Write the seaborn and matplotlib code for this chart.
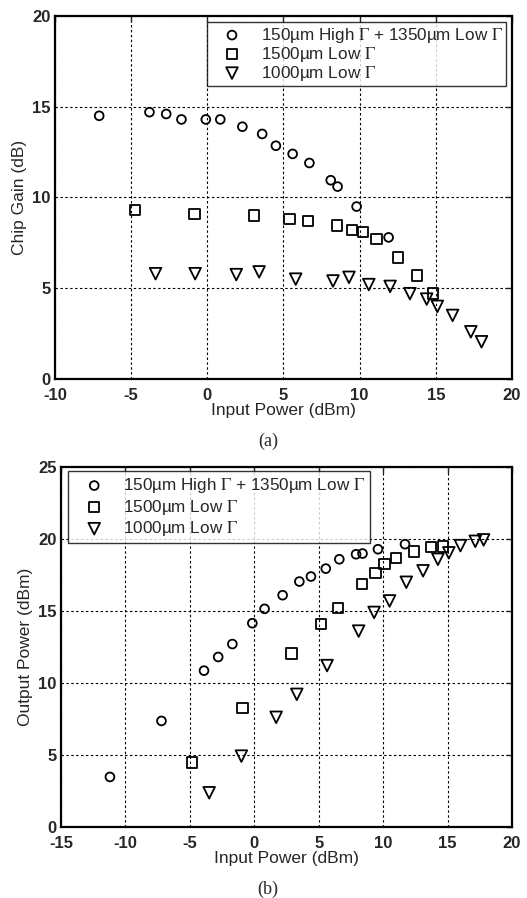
import pandas as pd
import matplotlib
matplotlib.use('Agg')
import matplotlib.pyplot as plt
import seaborn as sns

# Series labels
labels = [r'150µm High $\Gamma$ + 1350µm Low $\Gamma$',
          r'1500µm Low $\Gamma$',
          r'1000µm Low $\Gamma$']
markers = ['o', 's', 'v']

# (a) Chip gain vs input power
gain_x_combo = [-7.1, -3.8, -2.7, -1.7, -0.1, 0.85, 2.3, 3.6, 4.5, 5.6, 6.7, 8.1, 8.55, 9.8, 11.9]
gain_y_combo = [14.5, 14.7, 14.6, 14.3, 14.3, 14.3, 13.9, 13.5, 12.85, 12.4, 11.9, 10.95, 10.6, 9.5, 7.8]
gain_x_1500 = [-4.75, -0.85, 3.05, 5.4, 6.6, 8.5, 9.5, 10.2, 11.1, 12.5, 13.75, 14.8]
gain_y_1500 = [9.3, 9.1, 9.0, 8.8, 8.7, 8.45, 8.2, 8.1, 7.7, 6.7, 5.7, 4.7]
gain_x_1000 = [-3.4, -0.8, 1.9, 3.4, 5.8, 8.25, 9.3, 10.6, 12.0, 13.3, 14.4, 15.1, 16.1, 17.3, 18.0]
gain_y_1000 = [5.8, 5.8, 5.75, 5.9, 5.5, 5.4, 5.6, 5.2, 5.1, 4.7, 4.4, 4.0, 3.5, 2.6, 2.05]

# (b) Output power vs input power
out_x_combo = [-11.2, -7.2, -3.9, -2.8, -1.7, -0.15, 0.8, 2.2, 3.5, 4.4, 5.55, 6.6, 7.9, 8.4, 9.6, 11.7]
out_y_combo = [3.45, 7.35, 10.85, 11.8, 12.7, 14.15, 15.15, 16.1, 17.05, 17.4, 17.95, 18.6, 18.95, 19.0, 19.3, 19.65]
out_x_1500 = [-4.85, -0.9, 2.9, 5.2, 6.5, 8.35, 9.4, 10.1, 11.0, 12.4, 13.7, 14.65]
out_y_1500 = [4.45, 8.25, 12.05, 14.1, 15.2, 16.9, 17.65, 18.25, 18.7, 19.15, 19.45, 19.5]
out_x_1000 = [-3.5, -1.0, 1.7, 3.3, 5.65, 8.1, 9.3, 10.5, 11.8, 13.1, 14.25, 15.1, 16.0, 17.15, 17.8]
out_y_1000 = [2.35, 4.9, 7.6, 9.2, 11.2, 13.6, 14.9, 15.7, 17.0, 17.8, 18.6, 19.05, 19.55, 19.85, 19.95]

gain_sets = [(gain_x_combo, gain_y_combo), (gain_x_1500, gain_y_1500), (gain_x_1000, gain_y_1000)]
out_sets = [(out_x_combo, out_y_combo), (out_x_1500, out_y_1500), (out_x_1000, out_y_1000)]

sns.set_style('white')
plt.rcParams['font.family'] = ['Liberation Sans', 'DejaVu Sans']
plt.rcParams['mathtext.fontset'] = 'stix'
plt.rcParams['axes.unicode_minus'] = False

fig = plt.figure(figsize=(5.27, 8.98), dpi=100)
ax1 = fig.add_axes([0.1044, 0.578, 0.8671, 0.4042])
ax2 = fig.add_axes([0.1157, 0.0796, 0.8558, 0.4000])

msizes = {'o': 40, 's': 56, 'v': 70}


def draw(ax, sets, xlim, ylim, ylabel, legend_loc, legend_anchor, spacing, bpad):
    for (xs, ys), lab, m in zip(sets, labels, markers):
        df = pd.DataFrame({'x': xs, 'y': ys})
        sns.scatterplot(data=df, x='x', y='y', ax=ax, marker=m, s=msizes[m],
                        color='k', facecolor='none', edgecolor='k',
                        linewidth=1.3, label=lab, zorder=3)
    ax.set_xlim(*xlim)
    ax.set_ylim(*ylim)
    ax.grid(True, color='k', linestyle=(0, (2.2, 2.2)), linewidth=0.8)
    ax.set_axisbelow(True)
    for sp in ax.spines.values():
        sp.set_linewidth(1.6)
        sp.set_color('k')
    ax.tick_params(direction='in', top=True, right=True, length=4, width=1,
                   labelsize=12)
    ax.tick_params(axis='x', pad=6.5)
    ax.tick_params(axis='y', pad=3)
    ax.set_xlabel('Input Power (dBm)', fontsize=12.5, labelpad=0)
    ax.set_ylabel(ylabel, fontsize=12.5, labelpad=4)
    leg = ax.legend(loc=legend_loc, bbox_to_anchor=legend_anchor, fontsize=12.3,
                    frameon=True, fancybox=False, edgecolor='k',
                    handletextpad=0.45, borderpad=bpad, labelspacing=spacing,
                    borderaxespad=0, handlelength=2.5)
    leg.get_frame().set_linewidth(1.0)


draw(ax1, gain_sets, (-10, 20), (0, 20), 'Chip Gain (dB)', 'upper right',
     (0.988, 0.983), 0.0, 0.2)
ax1.set_xticks(range(-10, 21, 5))
ax1.set_yticks(range(0, 21, 5))

draw(ax2, out_sets, (-15, 20), (0, 25), 'Output Power (dBm)', 'upper left',
     (0.015, 0.99), 0.15, 0.3)
ax2.set_xticks(range(-15, 21, 5))
ax2.set_yticks(range(0, 26, 5))

for ax in (ax1, ax2):
    for t in ax.get_xticklabels() + ax.get_yticklabels():
        t.set_fontweight('bold')

fig.text(0.509, 1 - 441.7 / 898, '(a)', family='Liberation Serif', fontsize=13,
         ha='center', va='center')
fig.text(0.509, 1 - 889.0 / 898, '(b)', family='Liberation Serif', fontsize=13,
         ha='center', va='center')

fig.savefig('out.png', dpi=100)
